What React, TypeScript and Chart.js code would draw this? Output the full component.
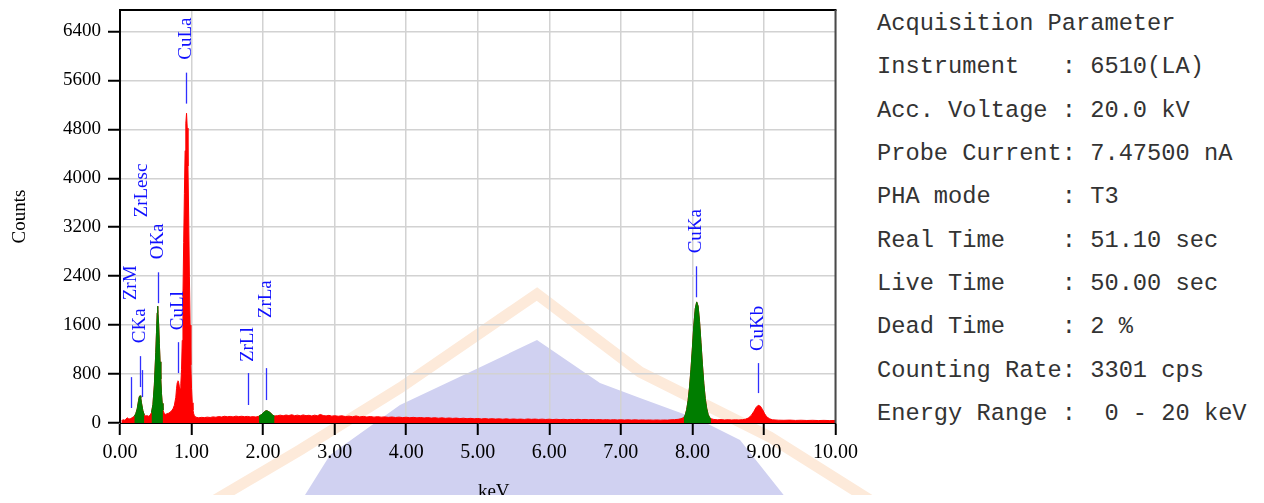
import React, { useEffect, useRef } from "react";
import { Chart, registerables } from "chart.js";

Chart.register(...registerables);

// ---- Spectrum (energy in keV, counts) ----
const spectrumKeV = [
  0.02, 0.04, 0.06, 0.08, 0.10, 0.12, 0.14, 0.16, 0.18, 0.20, 0.22, 0.24, 0.26, 0.27, 0.28, 0.29, 0.30, 0.32, 0.34,
  0.36, 0.38, 0.40, 0.42, 0.44, 0.46, 0.48, 0.50, 0.51, 0.52, 0.525, 0.53, 0.54, 0.55, 0.56, 0.57, 0.58, 0.59, 0.60,
  0.62, 0.64, 0.66, 0.68, 0.70, 0.72, 0.74, 0.76, 0.78, 0.79, 0.80, 0.81, 0.82, 0.83, 0.84, 0.85, 0.86, 0.87, 0.88,
  0.89, 0.90, 0.91, 0.92, 0.93, 0.94, 0.95, 0.96, 0.97, 0.98, 0.99, 1.00, 1.01, 1.02, 1.03, 1.04, 1.06,
  1.10, 1.14, 1.18, 1.22, 1.26, 1.30, 1.34, 1.38, 1.42, 1.46, 1.50, 1.54, 1.58, 1.62, 1.66, 1.70, 1.74, 1.78, 1.82,
  1.86, 1.90, 1.94, 1.98, 2.02, 2.04, 2.06, 2.10, 2.13, 2.16, 2.20, 2.24, 2.28, 2.32, 2.36, 2.40, 2.44, 2.48, 2.52,
  2.56, 2.60, 2.64, 2.68, 2.72, 2.76, 2.80, 2.84, 2.88, 2.92, 2.96, 3.00, 3.05, 3.10, 3.15, 3.20, 3.25, 3.30, 3.35,
  3.40, 3.45, 3.50, 3.55, 3.60, 3.65, 3.70, 3.75, 3.80, 3.85, 3.90, 3.95, 4.00, 4.05, 4.10, 4.15, 4.20, 4.25, 4.30,
  4.35, 4.40, 4.45, 4.50, 4.55, 4.60, 4.65, 4.70, 4.75, 4.80, 4.85, 4.90, 4.95, 5.00, 5.05, 5.10, 5.15, 5.20, 5.25,
  5.30, 5.35, 5.40, 5.45, 5.50, 5.55, 5.60, 5.65, 5.70, 5.75, 5.80, 5.85, 5.90, 5.95, 6.00, 6.05, 6.10, 6.15, 6.20,
  6.25, 6.30, 6.35, 6.40, 6.45, 6.50, 6.55, 6.60, 6.65, 6.70, 6.75, 6.80, 6.85, 6.90, 6.95, 7.00, 7.05, 7.10, 7.15,
  7.20, 7.25, 7.30, 7.35, 7.40, 7.45, 7.50, 7.55, 7.60, 7.65, 7.70, 7.75, 7.80, 7.84, 7.88, 7.90, 7.92, 7.94, 7.96,
  7.98, 8.00, 8.02, 8.04, 8.06, 8.08, 8.10, 8.12, 8.14, 8.16, 8.18, 8.20, 8.22, 8.24, 8.26, 8.30, 8.35, 8.40, 8.45,
  8.50, 8.55, 8.60, 8.65, 8.70, 8.74, 8.78, 8.82, 8.86, 8.89, 8.92, 8.95, 8.98, 9.01, 9.04, 9.08, 9.12, 9.20, 9.28,
  9.36, 9.44, 9.52, 9.60, 9.68, 9.76, 9.84, 9.92, 10.00,
];
const spectrumCounts = [
  30, 55, 45, 60, 85, 70, 65, 80, 95, 110, 150, 230, 370, 430, 445, 410, 330, 200, 130,
  115, 120, 110, 125, 170, 300, 620, 1150, 1480, 1800, 1909, 1860, 1620, 1300, 1000, 720, 480, 320, 210,
  150, 140, 155, 160, 175, 200, 230, 290, 420, 560, 660, 690, 660, 590, 560, 640, 870, 1350, 2100,
  2950, 3750, 4450, 4900, 5062, 4820, 4200, 3350, 2400, 1600, 950, 560, 330, 210, 150, 120, 95,
  85, 92, 88, 96, 90, 100, 94, 105, 98, 110, 102, 108, 100, 112, 104, 110, 103, 108, 100,
  104, 98, 110, 140, 185, 200, 198, 170, 130, 115, 120, 128, 118, 130, 122, 135, 120, 128, 118,
  132, 120, 126, 115, 128, 118, 140, 122, 116, 125, 112, 120, 110, 118, 105, 112, 102, 115, 100,
  108, 98, 106, 96, 104, 95, 100, 92, 98, 90, 96, 88, 94, 86, 92, 84, 90, 82, 88,
  80, 86, 78, 84, 76, 82, 75, 80, 72, 78, 70, 76, 68, 74, 66, 72, 65, 70, 64,
  68, 62, 68, 60, 66, 60, 64, 58, 66, 60, 64, 58, 63, 57, 62, 56, 61, 55, 60,
  54, 59, 55, 60, 54, 58, 53, 57, 52, 56, 51, 55, 50, 54, 50, 53, 49, 52, 48,
  52, 47, 51, 47, 50, 46, 50, 46, 49, 47, 52, 55, 60, 70, 90, 130, 220, 370, 590,
  880, 1230, 1600, 1870, 1979, 1910, 1660, 1310, 960, 640, 400, 240, 140, 90, 70, 58, 52, 56, 50,
  54, 49, 52, 50, 55, 62, 80, 120, 190, 255, 290, 275, 220, 150, 100, 68, 52, 46, 44,
  47, 42, 45, 41, 44, 40, 43, 39, 42,
];

// Regions of interest drawn in green (keV ranges)
const roiStart = [0.20, 0.44, 1.94, 7.88];
const roiEnd = [0.34, 0.60, 2.16, 8.26];

// Peak identification markers
const peakNames = ["ZrM", "CKa", "ZrLesc", "OKa", "CuLl", "CuLa", "ZrLl", "ZrLa", "CuKa", "CuKb"];
const peakKeV = [0.157, 0.277, 0.305, 0.525, 0.811, 0.928, 1.79, 2.04, 8.05, 8.92];
const peakLineTop = [750, 1093, 865, 2463, 1321, 5726, 816, 897, 2561, 979];
const peakLineBottom = [245, 587, 424, 1958, 816, 5220, 294, 375, 2055, 489];
const peakLabelBase = [2006, 1305, 3360, 2675, 1517, 5938, 995, 1713, 2773, 1175];

// Axes
const xMin = 0;
const xMax = 10;
const xTickValues = [0, 1, 2, 3, 4, 5, 6, 7, 8, 9, 10];
const yMin = 0;
const yMax = 6750;
const yTickValues = [0, 800, 1600, 2400, 3200, 4000, 4800, 5600, 6400];
const xTitle = "keV";
const yTitle = "Counts";

// Acquisition parameter panel
const paramLines = [
  "Acquisition Parameter",
  "Instrument   : 6510(LA)",
  "Acc. Voltage : 20.0 kV",
  "Probe Current: 7.47500 nA",
  "PHA mode     : T3",
  "Real Time    : 51.10 sec",
  "Live Time    : 50.00 sec",
  "Dead Time    : 2 %",
  "Counting Rate: 3301 cps",
  "Energy Range :  0 - 20 keV",
];

const SERIF = '"Liberation Serif", "Times New Roman", serif';
const FONT = `19px ${SERIF}`;

const overlayPlugin = {
  id: "edsOverlay",
  afterDatasetsDraw(chart: any) {
    const { ctx, chartArea: a, scales } = chart;
    const x = scales.x;
    const y = scales.y;
    ctx.save();
    // top and right frame
    ctx.lineWidth = 2;
    ctx.strokeStyle = "#000";
    ctx.beginPath();
    ctx.moveTo(a.left - 1, a.top);
    ctx.lineTo(a.right + 1, a.top);
    ctx.stroke();
    ctx.strokeStyle = "#4a4a4a";
    ctx.beginPath();
    ctx.moveTo(a.right, a.top);
    ctx.lineTo(a.right, a.bottom);
    ctx.stroke();

    // peak markers
    ctx.font = FONT;
    for (let i = 0; i < peakNames.length; i++) {
      const px = Math.round(x.getPixelForValue(peakKeV[i])) + 0.5;
      ctx.strokeStyle = "#3030ff";
      ctx.lineWidth = 1.3;
      ctx.beginPath();
      ctx.moveTo(px, y.getPixelForValue(peakLineTop[i]));
      ctx.lineTo(px, y.getPixelForValue(peakLineBottom[i]));
      ctx.stroke();
      ctx.save();
      ctx.translate(px, y.getPixelForValue(peakLabelBase[i]));
      ctx.rotate(-Math.PI / 2);
      ctx.fillStyle = "#1010ff";
      ctx.textAlign = "left";
      ctx.textBaseline = "middle";
      ctx.fillText(peakNames[i], 0, 0);
      ctx.restore();
    }

    // axis titles
    ctx.fillStyle = "#000";
    ctx.font = FONT;
    ctx.textAlign = "center";
    ctx.textBaseline = "middle";
    ctx.fillText(xTitle, (a.left + a.right) / 2 + 16, a.bottom + 69);
    ctx.save();
    ctx.translate(12, (a.top + a.bottom) / 2);
    ctx.rotate(-Math.PI / 2);
    ctx.fillText(yTitle, 0, 0);
    ctx.restore();
    ctx.restore();
  },
};

function EdsChart() {
  const ref = useRef<HTMLCanvasElement | null>(null);
  useEffect(() => {
    if (!ref.current) return;
    const all = spectrumKeV.map((e, i) => ({ x: e, y: spectrumCounts[i] }));
    const inRoi = (e: number) => roiStart.some((s, k) => e >= s && e <= roiEnd[k]);
    const green = spectrumKeV.map((e, i) => ({ x: e, y: inRoi(e) ? spectrumCounts[i] : null }));
    const chart = new Chart(ref.current, {
      type: "line",
      data: {
        datasets: [
          {
            data: green as any,
            borderColor: "#007d00",
            backgroundColor: "#007d00",
            borderWidth: 1,
            pointRadius: 0,
            fill: "origin",
            spanGaps: false,
            tension: 0,
            order: 0,
          },
          {
            data: all,
            borderColor: "#ff0000",
            backgroundColor: "#ff0000",
            borderWidth: 1,
            pointRadius: 0,
            fill: "origin",
            tension: 0,
            order: 1,
          },
        ],
      },
      options: {
        responsive: false,
        animation: false,
        devicePixelRatio: 1,
        layout: { padding: { left: 0, right: 17, top: 1.5, bottom: 0 } },
        plugins: { legend: { display: false }, tooltip: { enabled: false } },
        scales: {
          x: {
            type: "linear",
            min: xMin,
            max: xMax,
            afterFit: (s: any) => {
              s.height = 72;
            },
            afterBuildTicks: (s: any) => {
              s.ticks = xTickValues.map((v) => ({ value: v }));
            },
            ticks: {
              autoSkip: false,
              maxRotation: 0,
              padding: 6,
              color: "#000",
              font: { family: SERIF, size: 20 },
              callback: (v: any) => Number(v).toFixed(2),
            },
            grid: {
              color: "#d2d2d2",
              lineWidth: 1.5,
              tickColor: "#000",
              tickWidth: 2,
              tickLength: 12,
            },
            border: { display: true, color: "#000", width: 1 },
          },
          y: {
            type: "linear",
            min: yMin,
            max: yMax,
            afterFit: (s: any) => {
              s.width = 112;
            },
            afterBuildTicks: (s: any) => {
              s.ticks = yTickValues.map((v) => ({ value: v }));
            },
            ticks: {
              autoSkip: false,
              padding: 7,
              color: "#000",
              font: { family: SERIF, size: 19, lineHeight: "2px" },
              callback: (v: any) => String(v),
            },
            grid: {
              color: "#d2d2d2",
              lineWidth: 1.5,
              tickColor: "#000",
              tickWidth: 2,
              tickLength: 12,
            },
            border: { display: true, color: "#000", width: 2 },
          },
        },
      },
      plugins: [overlayPlugin],
    });
    return () => chart.destroy();
  }, []);
  return <canvas ref={ref} width={856} height={493} style={{ position: "absolute", left: 0, top: -6 }} />;
}

function Watermark() {
  return (
    <svg width={1264} height={503} style={{ position: "absolute", left: -8, top: -8 }}>
      <polygon
        points="537,340 470,372 400,405 330,455 300,503 790,503 740,440 700,420 640,398 600,383"
        fill="#d0d1f1"
      />
      <polyline
        points="210,503 300,450 400,388 537,294 640,372 770,437 870,500"
        fill="none"
        stroke="#fdeada"
        strokeWidth={11}
      />
    </svg>
  );
}

export default function App() {
  return (
    <div style={{ position: "relative", width: 1248, height: 487 }}>
      <Watermark />
      <EdsChart />
      <div
        style={{
          position: "absolute",
          left: 869,
          top: -6,
          fontFamily: '"Liberation Mono", "Courier New", monospace',
          fontSize: "23.7px",
          lineHeight: "43.33px",
          color: "#333",
          whiteSpace: "pre",
        }}
      >
        {paramLines.map((l, i) => (
          <div key={i}>{l}</div>
        ))}
      </div>
    </div>
  );
}
